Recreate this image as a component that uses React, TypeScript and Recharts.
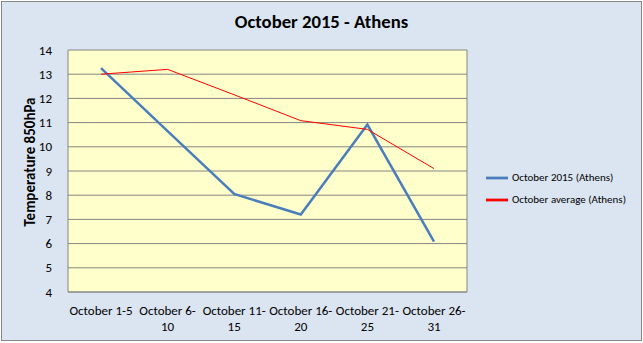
import { CartesianGrid, Legend, Line, LineChart, XAxis, YAxis } from "recharts";

const periods = [
  "October 1-5",
  "October 6-10",
  "October 11-15",
  "October 16-20",
  "October 21-25",
  "October 26-31",
];
const oct2015 = [13.25, 10.65, 8.05, 7.2, 10.92, 6.08];
const octAverage = [13.0, 13.2, 12.15, 11.08, 10.72, 9.1];
const yTicks = [4, 5, 6, 7, 8, 9, 10, 11, 12, 13, 14];

const data = periods.map((p, i) => ({
  period: p,
  oct2015: oct2015[i],
  avg: octAverage[i],
}));

const font = "Calibri, Carlito, 'Open Sans', Arial, sans-serif";

function PeriodTick(props: any) {
  const { x, y, payload } = props;
  const label: string = payload.value;
  let lines = [label];
  if (label.length > 11) {
    const cut = label.lastIndexOf("-") + 1;
    lines = [label.slice(0, cut), label.slice(cut)];
  }
  return (
    <g>
      {lines.map((l, i) => (
        <text
          key={i}
          x={x}
          y={y + 14.5 + i * 16}
          textAnchor="middle"
          fontSize={13}
          fontFamily={font}
          fill="#000"
        >
          {l}
        </text>
      ))}
    </g>
  );
}

export default function App() {
  return (
    <div
      style={{
        position: "absolute",
        left: 0,
        top: 0,
        width: 643,
        height: 343,
        background: "#fff",
      }}
    >
      <div
        style={{
          position: "absolute",
          left: 1,
          top: 1,
          width: 639,
          height: 338,
          background: "#dbe5f1",
          border: "1px solid #868686",
        }}
      />
      <div
        style={{
          position: "absolute",
          left: 0,
          top: 10,
          width: 643,
          textAlign: "center",
          fontFamily: font,
          fontWeight: "bold",
          fontSize: 18.7,
          color: "#000",
        }}
      >
        October 2015 - Athens
      </div>
      <div
        style={{
          position: "absolute",
          left: 30,
          top: 162,
          transform: "translate(-50%, -50%) rotate(-90deg)",
          whiteSpace: "nowrap",
          fontFamily: font,
          fontWeight: "bold",
          fontSize: 15,
          color: "#000",
        }}
      >
        Temperature 850hPa
      </div>
      <div style={{ position: "absolute", left: 0, top: 0 }}>
        <LineChart
          width={643}
          height={343}
          data={data}
          margin={{ top: 50, right: 15, bottom: 11, left: 28 }}
        >
          <CartesianGrid
            vertical={false}
            stroke="#868686"
            fill="#ffffcc"
            fillOpacity={1}
            strokeWidth={1}
          />
          <XAxis
            dataKey="period"
            height={40}
            tickLine={false}
            axisLine={{ stroke: "#868686" }}
            interval={0}
            padding={{ left: 33, right: 33 }}
            tick={<PeriodTick />}
          />
          <YAxis
            width={40}
            domain={[4, 14]}
            ticks={yTicks}
            tickLine={false}
            axisLine={{ stroke: "#868686" }}
            tick={{ fontSize: 13, fill: "#000", fontFamily: font }}
            tickMargin={10}
          />
          <YAxis
            yAxisId="frame"
            orientation="right"
            width={1}
            domain={[4, 14]}
            tick={false}
            tickLine={false}
            axisLine={{ stroke: "#868686" }}
          />
          <Line
            dataKey="oct2015"
            name="October 2015 (Athens)"
            stroke="#4a7ebb"
            strokeWidth={2.5}
            dot={false}
            isAnimationActive={false}
          />
          <Line
            dataKey="avg"
            name="October average (Athens)"
            stroke="#ff0000"
            strokeWidth={1}
            dot={false}
            isAnimationActive={false}
          />
          <Legend
            layout="vertical"
            align="right"
            verticalAlign="top"
            iconType="plainline"
            iconSize={22}
            wrapperStyle={{
              top: 167,
              right: -3,
              width: 160,
              fontFamily: font,
              fontSize: 11,
              lineHeight: "17px",
            }}
            formatter={(v: string) => <span style={{ color: "#000" }}>{v}</span>}
          />
        </LineChart>
      </div>
    </div>
  );
}
